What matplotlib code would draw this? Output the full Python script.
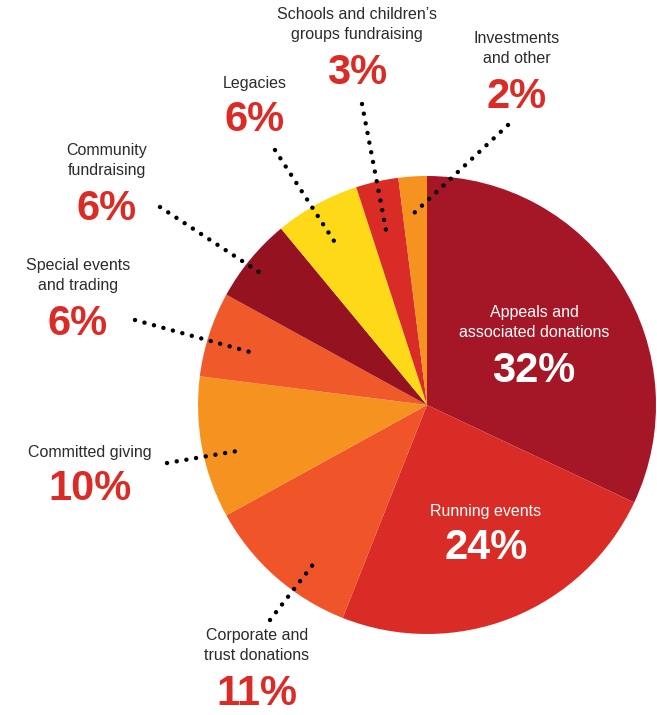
import matplotlib.pyplot as plt

# income sources, clockwise from 12 o'clock
labels = ["Appeals and\nassociated donations", "Running events", "Corporate and\ntrust donations",
          "Committed giving", "Special events\nand trading", "Community\nfundraising",
          "Legacies", "Schools and children\u2019s\ngroups fundraising", "Investments\nand other"]
shares = [32, 24, 11, 10, 6, 6, 6, 3, 2]
colors = ["#A51727", "#D92C26", "#EF5528", "#F6921F", "#F05A2B", "#951321",
          "#FDD917", "#D92C26", "#F6921F"]

# label anchor (x, y from top) for each slice, and leader line ends
label_pos = [(534, 305), (486, 504), (257, 628), (90, 445), (78, 258),
             (107, 143), (255, 76), (357, 7), (517, 31)]
inside = [True, True, False, False, False, False, False, False, False]
leaders = [None, None, ((270, 620), (315, 562)), ((167, 463), (243, 450)),
           ((135, 320), (250, 352)), ((160, 207), (265, 276)),
           ((275, 150), (334, 241)), ((362, 104), (386, 230)),
           ((508, 125), (412, 215))]

W, H = 657, 715
fig = plt.figure(figsize=(W / 100, H / 100), dpi=100)
ax = fig.add_axes([0, 0, 1, 1])

ax.pie(shares, colors=colors, startangle=90, counterclock=False,
       center=(427, H - 405), radius=229, frame=True,
       wedgeprops=dict(linewidth=0))
ax.set_xlim(0, W)
ax.set_ylim(0, H)
ax.axis("off")

font = "Liberation Sans"
for lab, val, (x, y), inn, ld in zip(labels, shares, label_pos, inside, leaders):
    tcol = "white" if inn else "#2b2b2b"
    pcol = "white" if inn else "#D92C26"
    nlines = lab.count("\n") + 1
    ax.text(x, H - y, lab, ha="center", va="top", fontsize=11.5, color=tcol,
            family=font, linespacing=1.4)
    ax.text(x, H - y - (nlines - 1) * 22 - 24, f"{val}%", ha="center", va="top",
            fontsize=30, fontweight="bold", color=pcol, family=font)
    if ld is not None:
        (x0, y0), (x1, y1) = ld
        ax.plot([x0, x1], [H - y0, H - y1], color="black", lw=3.2,
                linestyle=(0, (0.01, 2.2)), dash_capstyle="round")

fig.savefig("out.png", dpi=100)
